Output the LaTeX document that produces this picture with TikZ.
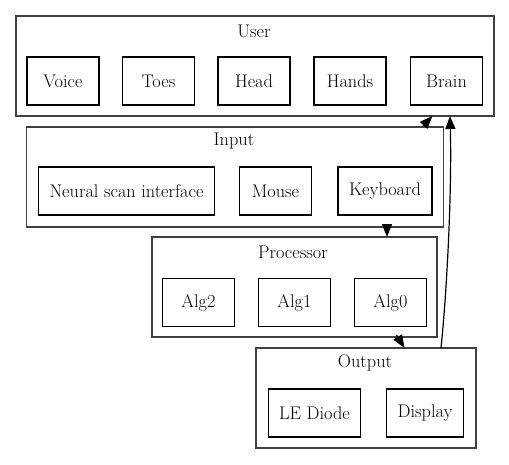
\documentclass[tikz,border=0pt]{standalone}
\usepackage{tikz}
\usetikzlibrary{arrows.meta}

\begin{document}
\begin{tikzpicture}[x=1pt, y=-1pt, line width=1.2pt,
        every node/.style={font=\fontsize{18.3}{22}\selectfont},
        cluster/.style={draw=black!75, minimum height=100pt, inner sep=0pt},
        part/.style={draw, minimum width=72pt, minimum height=48pt, inner xsep=11pt},
        link/.style={arrows = {-Triangle[length=13pt, width=10pt]}}]
        \useasboundingbox (0, 0) rectangle (509, 464);
        % clusters
        \node [cluster, minimum width=478pt] (user) at (255, 66) {};
        \node [cluster, minimum width=417pt] (input) at (235, 177) {};
        \node [cluster, minimum width=285pt] (processor) at (294.5, 287) {};
        \node [cluster, minimum width=220pt] (output) at (366, 398) {};
        \node (userlabel) at (254, 31) {User};
        \node (inputlabel) at (234, 141) {Input};
        \node (processorlabel) at (293, 252) {Processor};
        \node (outputlabel) at (365, 363) {Output};
        % user
        \node [part] (voice) at (63, 81) {Voice};
        \node [part] (toes) at (158.5, 81) {Toes};
        \node [part] (head) at (254, 81) {Head};
        \node [part] (hands) at (350, 81) {Hands};
        \node [part] (brain) at (446.5, 81) {Brain};
        % input
        \node [part] (neural) at (126.5, 191) {Neural scan interface};
        \node [part] (mouse) at (275.5, 191) {Mouse};
        \node [part] (keyboard) at (385, 191) {Keyboard};
        % processor
        \node [part] (alg2) at (198.5, 302.5) {Alg2};
        \node [part] (alg1) at (294.5, 302.5) {Alg1};
        \node [part] (alg0) at (390.5, 302.5) {Alg0};
        % output
        \node [part] (diode) at (314.5, 413) {LE Diode};
        \node [part] (display) at (425, 413) {Display};
        % edges
        \coordinate (inputout) at (423, 126);
        \coordinate (userin) at (432.5, 116);
        \coordinate (inputdown) at (387, 224);
        \coordinate (processorin) at (387, 237);
        \coordinate (processorout) at (396.5, 335);
        \coordinate (outputin) at (404.5, 348);
        \coordinate (outputup) at (441, 348);
        \coordinate (brainin) at (450, 116);
        \draw [link] (inputout) -- (userin);
        \draw [link] (inputdown) -- (processorin);
        \draw [link] (processorout) -- (outputin);
        \draw [link] (outputup) .. controls (447, 290) and (452, 190) .. (brainin);
\end{tikzpicture}
\end{document}
